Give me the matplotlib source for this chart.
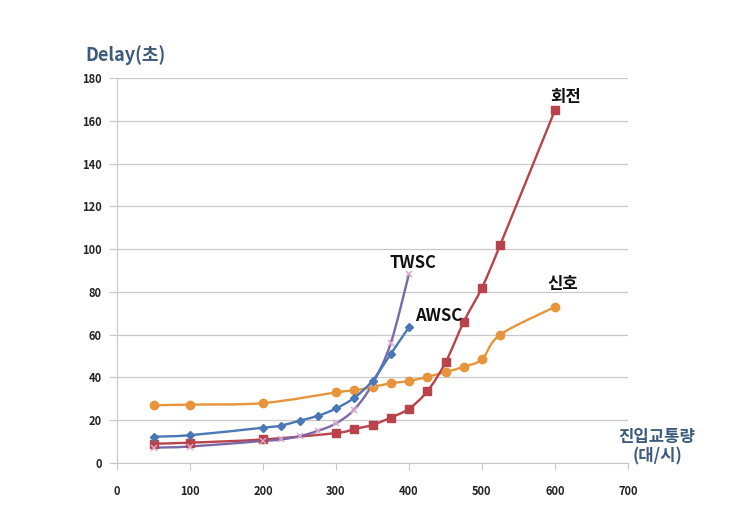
import matplotlib
matplotlib.use("Agg")
import matplotlib.pyplot as plt
from matplotlib.path import Path
from matplotlib.patches import PathPatch
import numpy as np

plt.rcParams['font.family'] = ['Noto Sans CJK KR', 'DejaVu Sans']

# Data
signal_x = [50, 100, 200, 300, 325, 350, 375, 400, 425, 450, 475, 500, 525, 600]
signal_y = [27, 27.3, 28, 33, 34, 35.5, 37.3, 38.3, 40.3, 42.5, 45, 48.5, 60, 73]

rot_x = [50, 100, 200, 300, 325, 350, 375, 400, 425, 450, 475, 500, 525, 600]
rot_y = [9, 9.5, 11, 14, 15.9, 17.8, 21.2, 25.4, 33.5, 47, 66, 82, 102, 165]

awsc_x = [50, 100, 200, 225, 250, 275, 300, 325, 350, 375, 400]
awsc_y = [12.3, 13, 16.5, 17.5, 19.8, 22, 25.5, 30.5, 38.5, 51, 63.5]

twsc_x = [50, 100, 200, 225, 250, 275, 300, 325, 350, 375, 400]
twsc_y = [7.2, 7.7, 10.3, 11, 12.5, 15, 18.5, 25, 37, 56, 88.5]

xticks = [0, 100, 200, 300, 400, 500, 600, 700]
yticks = [0, 20, 40, 60, 80, 100, 120, 140, 160, 180]

labels = {"회전": (614, 171), "신호": (611, 83.5), "TWSC": (405, 93.5), "AWSC": (440, 68.5)}

fig = plt.figure(figsize=(7.47, 5.05), dpi=100)
ax = fig.add_axes([117/747, 42/505, (628-117)/747, (463-78)/505])


def smooth(ax, xs, ys, color, lw=1.7, z=2):
    pts = np.column_stack([xs, ys]).astype(float)
    n = len(pts)
    verts = [tuple(pts[0])]
    codes = [Path.MOVETO]
    for i in range(n - 1):
        p0 = pts[i - 1] if i > 0 else pts[i]
        p1 = pts[i]
        p2 = pts[i + 1]
        p3 = pts[i + 2] if i + 2 < n else pts[i + 1]
        c1 = p1 + (p2 - p0) / 6.0
        c2 = p2 - (p3 - p1) / 6.0
        verts += [tuple(c1), tuple(c2), tuple(p2)]
        codes += [Path.CURVE4] * 3
    patch = PathPatch(Path(verts, codes), facecolor='none', edgecolor=color,
                      lw=lw, zorder=z, transform=ax.transData)
    ax.add_patch(patch)


orange = '#E8943A'
red = '#B8434A'
blue = '#4A78B5'
purple = '#7B68A8'

smooth(ax, signal_x, signal_y, orange)
ax.plot(signal_x, signal_y, 'o', color=orange, ms=6, zorder=3)

smooth(ax, rot_x, rot_y, red)
ax.plot(rot_x, rot_y, 's', color=red, ms=5.8, zorder=3)

smooth(ax, twsc_x, twsc_y, purple)
ax.plot(twsc_x, twsc_y, 'x', color='#D9A8CC', ms=4.5, mew=1.1, zorder=3)

smooth(ax, awsc_x, awsc_y, blue, z=4)
ax.plot(awsc_x, awsc_y, 'D', color=blue, ms=3.8, zorder=5)

ax.set_xlim(0, 700)
ax.set_ylim(0, 180)
ax.set_xticks(xticks)
ax.set_yticks(yticks)
ax.yaxis.grid(True, color='#C8C8C8', lw=0.9)
ax.set_axisbelow(True)
for s in ['top', 'right']:
    ax.spines[s].set_visible(False)
ax.spines['left'].set_color('#C8C8C8')
ax.spines['bottom'].set_color('#C8C8C8')
ax.tick_params(axis='y', length=6, color='#C8C8C8', pad=5, labelsize=8)
ax.tick_params(axis='x', length=5, color='#C8C8C8', pad=11, labelsize=8)
for t in ax.get_xticklabels() + ax.get_yticklabels():
    t.set_fontweight('bold')
    t.set_color('#222222')

for txt, (x, y) in labels.items():
    ax.text(x, y, txt, fontsize=12, fontweight='bold', color='#111111',
            ha='center', va='center')

fig.text(85/747, 1 - 55/505, 'Delay(초)', fontsize=13, fontweight='bold',
         color='#3C5A7C', ha='left', va='center')
fig.text(657/747, 1 - 447/505, '진입교통량\n(대/시)', fontsize=12, fontweight='bold',
         color='#3C5A7C', ha='center', va='center', linespacing=1.1)

fig.savefig('out.png', dpi=100)
